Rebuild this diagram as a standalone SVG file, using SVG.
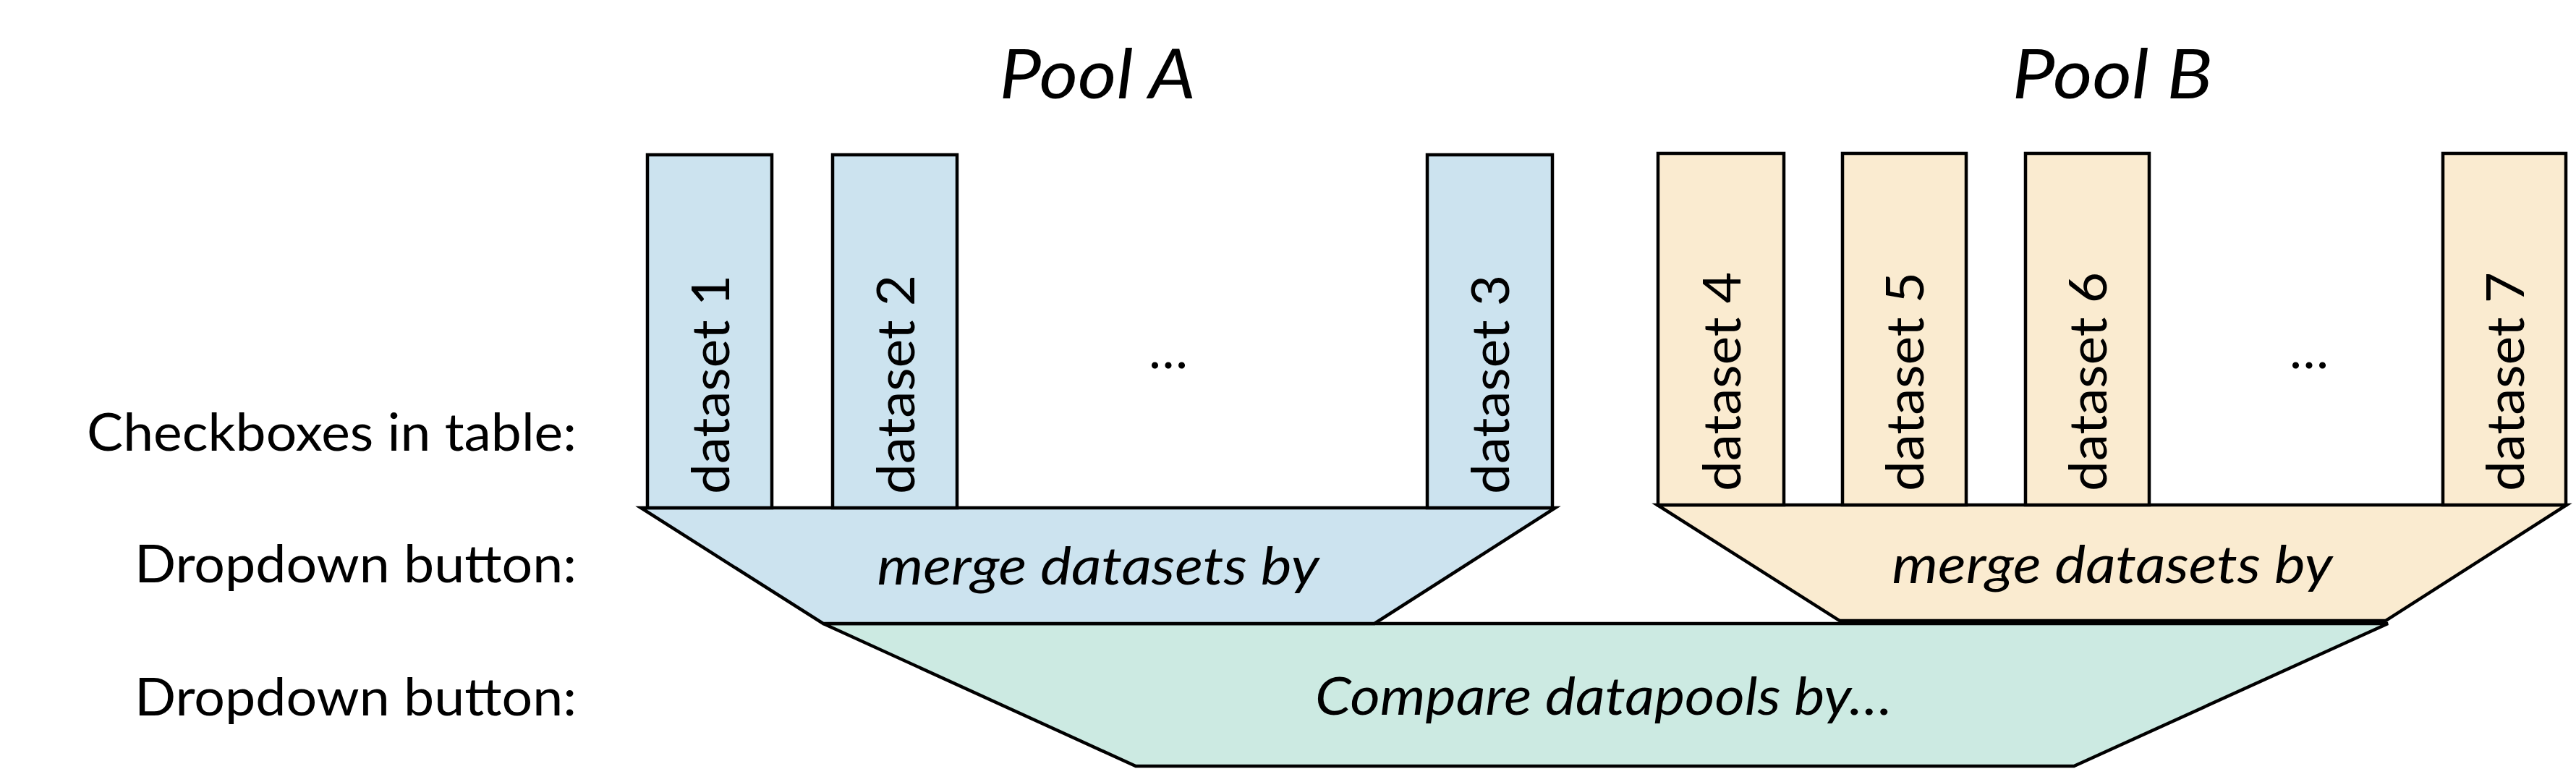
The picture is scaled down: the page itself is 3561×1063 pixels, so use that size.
<svg xmlns="http://www.w3.org/2000/svg" width="3561" height="1063" viewBox="0 0 3561 1063">
<style>
  text { font-family: "Lato", "Liberation Sans", sans-serif; fill: #000; }
  .box { stroke: #000; stroke-width: 4.5; }
  .a { fill: #CCE3EF; }
  .b { fill: #FAEBD0; }
  .c { fill: #CCEAE2; }
  .ds { font-size: 72px; }
  .lbl { font-size: 72px; text-anchor: end; }
  .title { font-size: 96px; font-style: italic; text-anchor: middle; }
  .it { font-size: 72px; font-style: italic; text-anchor: middle; }
  .dots { font-size: 72px; text-anchor: middle; }
</style>
<rect width="3561" height="1063" fill="#fff"/>

<g id="row-labels">
  <text class="lbl" x="797" y="623" textLength="677" lengthAdjust="spacingAndGlyphs">Checkboxes in table:</text>
  <text class="lbl" x="797" y="805" textLength="611" lengthAdjust="spacingAndGlyphs">Dropdown button:</text>
  <text class="lbl" x="797" y="989" textLength="611" lengthAdjust="spacingAndGlyphs">Dropdown button:</text>
</g>

<g id="title-pool-a"><text class="title" x="1517" y="136" textLength="271" lengthAdjust="spacingAndGlyphs">Pool A</text></g>
<g id="title-pool-b"><text class="title" x="2920" y="136" textLength="277" lengthAdjust="spacingAndGlyphs">Pool B</text></g>

<g id="compare">
  <polygon class="box c" points="1138,862 3301,862 2867,1059 1570,1059"/>
  <text class="it" x="2217" y="988" textLength="798" lengthAdjust="spacingAndGlyphs">Compare datapools by…</text>
</g>

<g id="merge-a">
  <polygon class="box a" points="886,702 2150,702 1900,862 1138,862"/>
  <text class="it" x="1518" y="808" textLength="611" lengthAdjust="spacingAndGlyphs">merge datasets by</text>
</g>

<g id="merge-b">
  <polygon class="box b" points="2291,698 3548,698 3298,858 2543,858"/>
  <text class="it" x="2920" y="806" textLength="609" lengthAdjust="spacingAndGlyphs">merge datasets by</text>
</g>

<g id="dataset-1">
  <rect class="box a" x="895" y="214" width="172" height="488"/>
  <text class="ds" transform="translate(1008,683) rotate(-90)" textLength="303" lengthAdjust="spacingAndGlyphs">dataset 1</text>
</g>
<g id="dataset-2">
  <rect class="box a" x="1151" y="214" width="172" height="488"/>
  <text class="ds" transform="translate(1264,683) rotate(-90)" textLength="303" lengthAdjust="spacingAndGlyphs">dataset 2</text>
</g>
<g id="ellipsis-a"><text class="dots" x="1615" y="509">…</text></g>
<g id="dataset-3">
  <rect class="box a" x="1973" y="214" width="173" height="488"/>
  <text class="ds" transform="translate(2086,683) rotate(-90)" textLength="303" lengthAdjust="spacingAndGlyphs">dataset 3</text>
</g>

<g id="dataset-4">
  <rect class="box b" x="2292" y="212" width="174" height="486"/>
  <text class="ds" transform="translate(2406,679) rotate(-90)" textLength="303" lengthAdjust="spacingAndGlyphs">dataset 4</text>
</g>
<g id="dataset-5">
  <rect class="box b" x="2547" y="212" width="171" height="486"/>
  <text class="ds" transform="translate(2659,679) rotate(-90)" textLength="303" lengthAdjust="spacingAndGlyphs">dataset 5</text>
</g>
<g id="dataset-6">
  <rect class="box b" x="2800" y="212" width="171" height="486"/>
  <text class="ds" transform="translate(2912,679) rotate(-90)" textLength="303" lengthAdjust="spacingAndGlyphs">dataset 6</text>
</g>
<g id="ellipsis-b"><text class="dots" x="3192" y="509">…</text></g>
<g id="dataset-7">
  <rect class="box b" x="3377" y="212" width="170" height="486"/>
  <text class="ds" transform="translate(3489,679) rotate(-90)" textLength="303" lengthAdjust="spacingAndGlyphs">dataset 7</text>
</g>

<g id="connectors"></g>
</svg>
